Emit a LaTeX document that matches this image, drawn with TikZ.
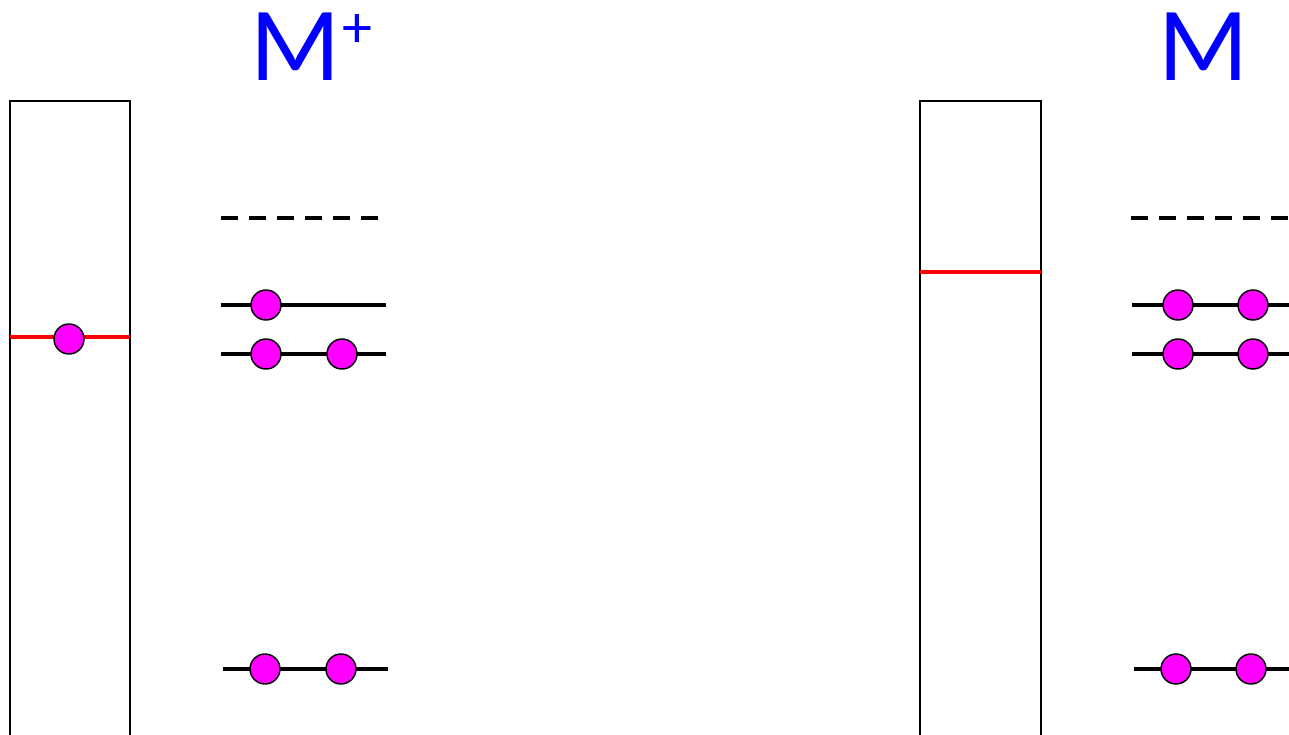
\documentclass[tikz,border=0pt]{standalone}
\usepackage{fontspec}
\setmainfont{Carlito}
\definecolor{elec}{RGB}{255,0,255}
\definecolor{lbl}{RGB}{0,0,255}
\definecolor{fermi}{RGB}{255,0,0}
\begin{document}
\begin{tikzpicture}[x=0.75pt,y=-0.75pt,
  bandbox/.style={draw=black,line width=1.5pt},
  level/.style={draw=black,line width=3.2pt},
  emptylevel/.style={draw=black,line width=3.2pt,dash pattern=on 12.75pt off 8.25pt},
  fermiline/.style={draw=fermi,line width=3.4pt},
  electron/.style={circle,draw=black,fill=elec,line width=1.1pt,minimum size=22.5pt,inner sep=0pt},
  title/.style={text=lbl,font=\fontsize{79}{80}\selectfont,inner sep=0pt}]
\useasboundingbox (0,0) rectangle (1289,735);
% left: M+
\coordinate (lbt) at (10,101);
\coordinate (rbt) at (130,101);
\coordinate (lbb) at (10,740);
\coordinate (rbb) at (130,740);
\draw[bandbox] (lbb) -- (lbt) -- (rbt) -- (rbb);
\coordinate (fl1) at (10,337);
\coordinate (fl2) at (130,337);
\draw[fermiline] (fl1) -- (fl2);
\node[electron] (e0) at (69,339) {};
\coordinate (d1a) at (221,218); \coordinate (d1b) at (378,218);
\draw[emptylevel] (d1a) -- (d1b);
\coordinate (l1a) at (221,305); \coordinate (l1b) at (386,305);
\draw[level] (l1a) -- (l1b);
\node[electron] (e1) at (266,305) {};
\coordinate (l2a) at (221,354); \coordinate (l2b) at (386,354);
\draw[level] (l2a) -- (l2b);
\node[electron] (e2) at (266,354) {};
\node[electron] (e3) at (342,354) {};
\coordinate (l3a) at (223,669); \coordinate (l3b) at (388,669);
\draw[level] (l3a) -- (l3b);
\node[electron] (e4) at (265,669) {};
\node[electron] (e5) at (341,669) {};
\node[title,anchor=base west] (tplus) at (250,80) {M};
\node[title,anchor=base west,font=\fontsize{45}{47}\selectfont] (plus) at (tplus.base east) [yshift=24pt,xshift=1pt] {+};
% right: M
\coordinate (Lbt) at (920,101);
\coordinate (Rbt) at (1041,101);
\coordinate (Lbb) at (920,740);
\coordinate (Rbb) at (1041,740);
\draw[bandbox] (Lbb) -- (Lbt) -- (Rbt) -- (Rbb);
\coordinate (Fl1) at (920,272);
\coordinate (Fl2) at (1041,272);
\draw[fermiline] (Fl1) -- (Fl2);
\coordinate (D1a) at (1131,218); \coordinate (D1b) at (1300,218);
\draw[emptylevel] (D1a) -- (D1b);
\coordinate (L1a) at (1132,305); \coordinate (L1b) at (1300,305);
\draw[level] (L1a) -- (L1b);
\node[electron] (E1) at (1178,305) {};
\node[electron] (E2) at (1253,305) {};
\coordinate (L2a) at (1132,354); \coordinate (L2b) at (1300,354);
\draw[level] (L2a) -- (L2b);
\node[electron] (E3) at (1178,354) {};
\node[electron] (E4) at (1253,354) {};
\coordinate (L3a) at (1134,669); \coordinate (L3b) at (1300,669);
\draw[level] (L3a) -- (L3b);
\node[electron] (E5) at (1176,669) {};
\node[electron] (E6) at (1251,669) {};
\node[title,anchor=base] (tm) at (1204,80) {M};
\end{tikzpicture}
\end{document}
